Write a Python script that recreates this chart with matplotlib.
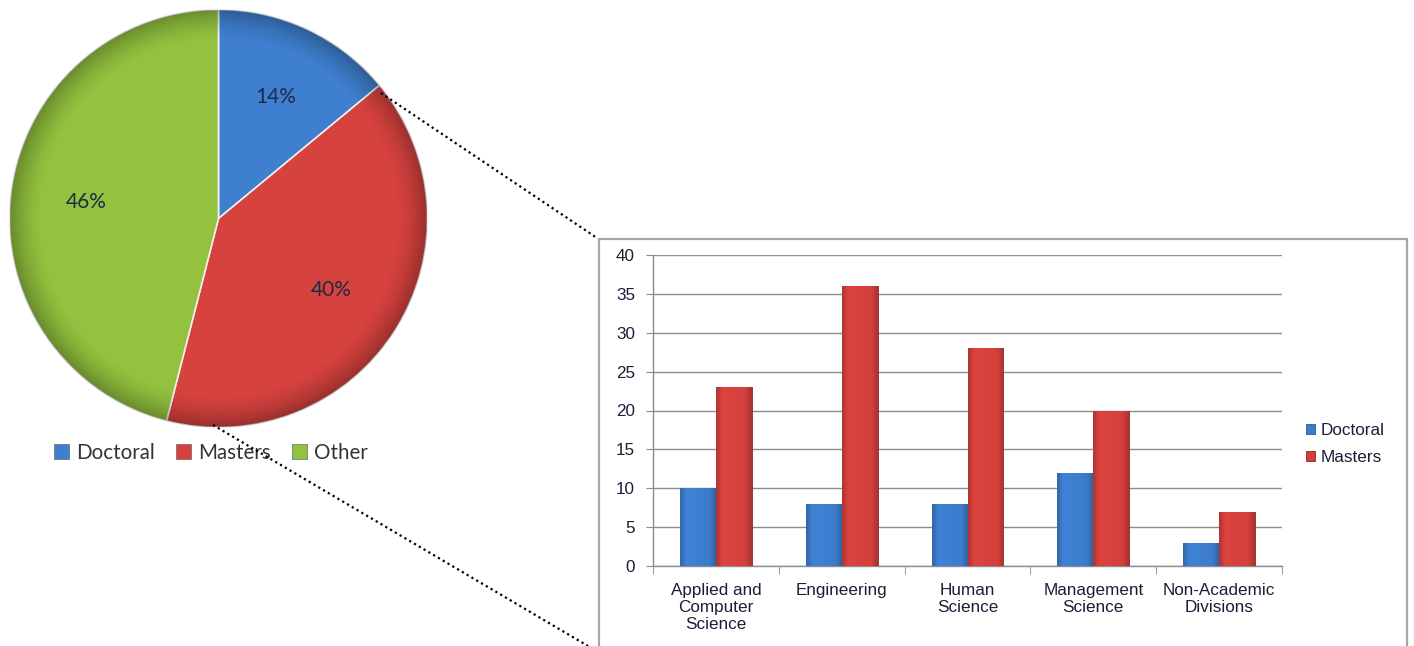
import numpy as np
import matplotlib
matplotlib.use("Agg")
import matplotlib.pyplot as plt
from matplotlib.patches import Patch, Rectangle, Circle
from matplotlib.lines import Line2D
from matplotlib.colors import to_rgb

# pie data
pie_labels = ["Doctoral", "Masters", "Other"]
pie_shares = [14, 40, 46]
pie_colors = ["#3f7fcf", "#d6423e", "#92c23e"]

# bar data
categories = ["Applied and\nComputer\nScience", "Engineering", "Human\nScience",
              "Management\nScience", "Non-Academic\nDivisions"]
doctoral = [10, 8, 8, 12, 3]
masters = [23, 36, 28, 20, 7]
bar_colors = ["#3c7ccb", "#d3403c"]

W, H = 1414, 646
fig = plt.figure(figsize=(W / 100, H / 100), dpi=100)
fig.patch.set_facecolor("white")

def shade_patch(ax, patch, color, extent, profile):
    # horizontal gradient painted inside the patch
    base = np.array(to_rgb(color))
    img = np.clip(base[None, None, :] * profile[None, :, None], 0, 1)
    im = ax.imshow(img, extent=extent, aspect="auto", zorder=patch.get_zorder() + 0.1,
                   interpolation="bicubic")
    im.set_clip_path(patch)

# ---------------- pie ----------------
ax_pie = fig.add_axes([9.5 / W, (H - 427.5) / H, 418 / W, 418 / H])
wedges, texts, autotexts = ax_pie.pie(
    pie_shares, colors=pie_colors, startangle=90, counterclock=False,
    autopct=lambda p: f"{p:.0f}%", pctdistance=0.64,
    wedgeprops=dict(edgecolor="#f0f0f0", linewidth=1.2))
for t in autotexts:
    t.set_fontsize(15)
    t.set_fontfamily("Lato")
    t.set_color("#1f2a44")
    t.set_zorder(10)
ax_pie.set_xlim(-1, 1)
ax_pie.set_ylim(-1, 1)
ax_pie.set_aspect("equal")

# darker rim like the bevelled original
n = 400
xx, yy = np.meshgrid(np.linspace(-1, 1, n), np.linspace(-1, 1, n))
rr = np.sqrt(xx ** 2 + yy ** 2)
shade = np.zeros((n, n, 4))
shade[..., 3] = np.clip((rr - 0.85) / 0.15, 0, 1) ** 1.5 * 0.28
rim = ax_pie.imshow(shade, extent=(-1, 1, -1, 1), zorder=5, interpolation="bilinear")
rim.set_clip_path(Circle((0, 0), 1, transform=ax_pie.transData))
ax_pie.set_xlim(-1, 1)
ax_pie.set_ylim(-1, 1)

pie_handles = [Patch(facecolor=c, edgecolor="#555555", linewidth=0.4) for c in pie_colors]
leg = ax_pie.legend(pie_handles, pie_labels, loc="center", bbox_to_anchor=(0.482, -0.061),
                    ncol=3, frameon=False, handlelength=0.75, handleheight=0.75,
                    handletextpad=0.35, columnspacing=1.0, borderpad=0,
                    prop=dict(family="Lato", size=14.8))
for t in leg.get_texts():
    t.set_color("#333333")

# ---------------- bars ----------------
ax_bar = fig.add_axes([653 / W, 80 / H, 629 / W, 311 / H])
x = np.arange(len(categories))
bw = 1 / 3.5
b1 = ax_bar.bar(x - bw / 2, doctoral, bw, color=bar_colors[0], label="Doctoral", zorder=3,
                edgecolor="#2a5a99", linewidth=0.6)
b2 = ax_bar.bar(x + bw / 2, masters, bw, color=bar_colors[1], label="Masters", zorder=3,
                edgecolor="#8e2624", linewidth=0.6)

prof = np.concatenate([np.linspace(0.82, 1.05, 12), np.linspace(1.05, 1.0, 40),
                       np.linspace(1.0, 0.8, 12)])
for bars, col in ((b1, bar_colors[0]), (b2, bar_colors[1])):
    for r in bars:
        x0, y0 = r.get_x(), r.get_y()
        shade_patch(ax_bar, r, col, (x0, x0 + r.get_width(), y0, y0 + r.get_height()), prof)

ax_bar.set_xlim(-0.5, len(categories) - 0.5)
ax_bar.set_ylim(0, 40)
ax_bar.set_yticks(np.arange(0, 41, 5))
ax_bar.set_xticks(x)
ax_bar.set_xticklabels(categories, fontsize=12.3, family="Liberation Sans",
                       color="#1d1d38", linespacing=1.18)
ax_bar.set_xticks(np.arange(-0.5, len(categories)), minor=True)
ax_bar.tick_params(axis="x", which="major", length=0, pad=12)
ax_bar.tick_params(axis="x", which="minor", length=6, color="#8c8c8c", direction="out")
ax_bar.tick_params(axis="y", length=5, color="#8c8c8c", direction="out", pad=8,
                   labelsize=12.3, labelcolor="#1d1d38")
for lbl in ax_bar.get_yticklabels():
    lbl.set_family("Liberation Sans")
ax_bar.grid(axis="y", color="#8c8c8c", linewidth=1, zorder=0)
ax_bar.set_axisbelow(True)
for s in ("top", "right"):
    ax_bar.spines[s].set_visible(False)
for s in ("left", "bottom"):
    ax_bar.spines[s].set_color("#8c8c8c")
    ax_bar.spines[s].set_linewidth(1)

bleg = ax_bar.legend(loc="center left", bbox_to_anchor=(1306 / W, (H - 444) / H),
                     bbox_transform=fig.transFigure, frameon=False, borderpad=0,
                     borderaxespad=0, handlelength=0.5, handleheight=0.5,
                     handletextpad=0.35, labelspacing=0.72,
                     prop=dict(family="Liberation Sans", size=12.3))
for t in bleg.get_texts():
    t.set_color("#1d1d38")

# chart frame around the bar chart
fig.patches.append(Rectangle((599 / W, -0.02), (1407 - 599) / W, (H - 239) / H + 0.02,
                             transform=fig.transFigure, fill=False,
                             edgecolor="#a6a6a6", linewidth=1.6, zorder=0))

# dotted connectors from pie to bar chart
for (xa, ya), (xb, yb) in (((381, 93), (597, 238)), ((213, 425), (588, 646))):
    fig.lines.append(Line2D([xa / W, xb / W], [(H - ya) / H, (H - yb) / H],
                            transform=fig.transFigure, color="black",
                            linestyle=(0, (1, 1.5)), linewidth=1.6, zorder=20))

fig.savefig("out.png", dpi=100, facecolor="white")
